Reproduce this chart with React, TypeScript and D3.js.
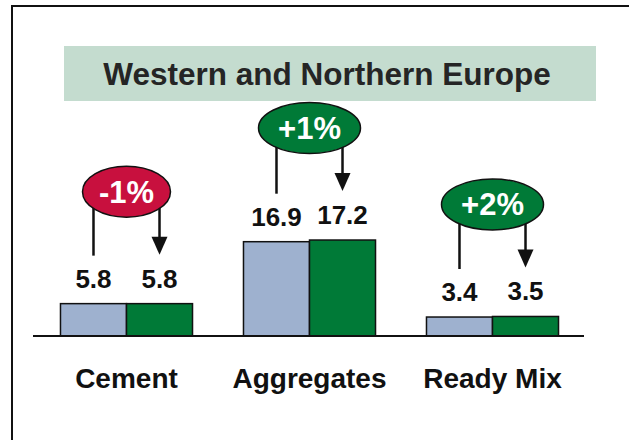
import { useEffect, useRef } from "react";
import * as d3 from "d3";

const categories = ["Cement", "Aggregates", "Ready Mix"];
const series = ["prev", "curr"];
const prevValues = [5.8, 16.9, 3.4];
const currValues = [5.8, 17.2, 3.5];
const changeLabels = ["-1%", "+1%", "+2%"];
const changeSign = ["down", "up", "up"];
const title = "Western and Northern Europe";

const FONT = "Arial, 'Liberation Sans', Helvetica, sans-serif";
const BLUE = "#9eb1cf";
const GREEN = "#007a37";
const RED = "#c8103e";

export default function App() {
  const ref = useRef<SVGSVGElement>(null);

  useEffect(() => {
    const width = 629;
    const height = 440;
    const baseY = 336;

    const svg = d3.select(ref.current);
    svg.selectAll("*").remove();
    svg.attr("width", width).attr("height", height).attr("viewBox", [0, 0, width, height]);

    svg.append("rect").attr("width", width).attr("height", height).attr("fill", "white");

    // outer frame (runs off right/bottom)
    svg
      .append("rect")
      .attr("x", 12)
      .attr("y", 6)
      .attr("width", 700)
      .attr("height", 500)
      .attr("fill", "none")
      .attr("stroke", "#111")
      .attr("stroke-width", 2);

    // title box
    svg
      .append("rect")
      .attr("x", 64)
      .attr("y", 46)
      .attr("width", 532)
      .attr("height", 55)
      .attr("fill", "#c4dccf");
    svg
      .append("text")
      .attr("x", 327)
      .attr("y", 85)
      .attr("text-anchor", "middle")
      .attr("font-family", FONT)
      .attr("font-weight", "bold")
      .attr("font-size", 31.5)
      .attr("fill", "#252525")
      .text(title);

    const x0 = d3.scaleBand().domain(categories).range([35, 584]).paddingInner(0);
    const x1 = d3
      .scaleBand()
      .domain(series)
      .range([0, x0.bandwidth()])
      .paddingInner(0)
      .paddingOuter(0.386);
    const y = d3.scaleLinear().domain([0, 20]).range([baseY, baseY - 111.6]);

    const data = categories.map((c, i) => ({
      cat: c,
      vals: [prevValues[i], currValues[i]],
      label: changeLabels[i],
      sign: changeSign[i],
    }));

    // bars
    const g = svg
      .append("g")
      .selectAll("g")
      .data(data)
      .join("g")
      .attr("transform", (d) => `translate(${x0(d.cat)},0)`);

    g.selectAll("rect")
      .data((d) => d.vals.map((v, j) => ({ key: series[j], v })))
      .join("rect")
      .attr("x", (d) => x1(d.key)!)
      .attr("y", (d) => y(d.v))
      .attr("width", x1.bandwidth())
      .attr("height", (d) => baseY - y(d.v))
      .attr("fill", (d) => (d.key === "prev" ? BLUE : GREEN))
      .attr("stroke", "#111")
      .attr("stroke-width", 1.5);

    g.selectAll("text.val")
      .data((d) => d.vals.map((v, j) => ({ key: series[j], v })))
      .join("text")
      .attr("class", "val")
      .attr("x", (d) => x1(d.key)! + x1.bandwidth() / 2)
      .attr("y", (d) => y(d.v) - 16)
      .attr("text-anchor", "middle")
      .attr("font-family", FONT)
      .attr("font-weight", "bold")
      .attr("font-size", 26)
      .attr("fill", "#111")
      .text((d) => d.v.toFixed(1));

    // baseline
    svg
      .append("line")
      .attr("x1", 33)
      .attr("x2", 584)
      .attr("y1", baseY)
      .attr("y2", baseY)
      .attr("stroke", "#111")
      .attr("stroke-width", 2);

    // category labels
    svg
      .append("g")
      .selectAll("text")
      .data(categories)
      .join("text")
      .attr("x", (d) => x0(d)! + x0.bandwidth() / 2)
      .attr("y", 388)
      .attr("text-anchor", "middle")
      .attr("font-family", FONT)
      .attr("font-weight", "bold")
      .attr("font-size", 28)
      .attr("fill", "#111")
      .text((d) => d);

    // change bubbles with arrows
    data.forEach((d) => {
      const cx = x0(d.cat)! + x0.bandwidth() / 2;
      const topY = y(Math.max(...d.vals));
      const cy = topY - 112;
      const lx = x0(d.cat)! + x1("prev")! + x1.bandwidth() / 2;
      const rx = x0(d.cat)! + x1("curr")! + x1.bandwidth() / 2;
      const lEnd = y(d.vals[0]) - 48;
      const rEnd = y(d.vals[1]) - 49;
      const grp = svg.append("g");
      grp
        .append("line")
        .attr("x1", lx)
        .attr("x2", lx)
        .attr("y1", cy)
        .attr("y2", lEnd)
        .attr("stroke", "#111")
        .attr("stroke-width", 2.5);
      grp
        .append("line")
        .attr("x1", rx)
        .attr("x2", rx)
        .attr("y1", cy)
        .attr("y2", rEnd - 14)
        .attr("stroke", "#111")
        .attr("stroke-width", 2.5);
      grp
        .append("path")
        .attr("d", `M${rx - 8},${rEnd - 18}L${rx + 8},${rEnd - 18}L${rx},${rEnd}Z`)
        .attr("fill", "#111");
      grp
        .append("ellipse")
        .attr("cx", cx)
        .attr("cy", cy)
        .attr("rx", d.label.startsWith("-") ? 44 : 51)
        .attr("ry", 25.5)
        .attr("fill", d.sign === "down" ? RED : GREEN)
        .attr("stroke", "#111")
        .attr("stroke-width", 1.5);
      grp
        .append("text")
        .attr("x", cx)
        .attr("y", cy + 11)
        .attr("text-anchor", "middle")
        .attr("font-family", FONT)
        .attr("font-weight", "bold")
        .attr("font-size", 31)
        .attr("fill", "white")
        .text(d.label);
    });
  }, []);

  return <svg ref={ref} style={{ position: "absolute", left: 0, top: 0, display: "block" }} />;
}
